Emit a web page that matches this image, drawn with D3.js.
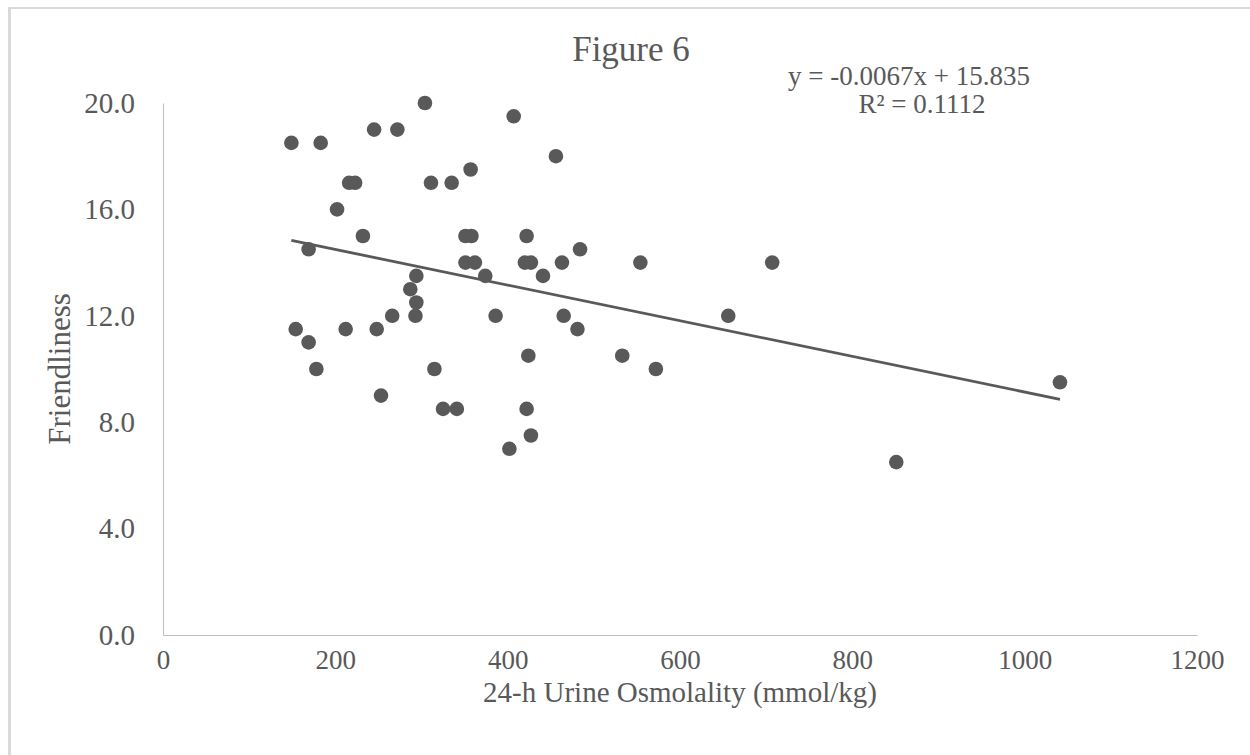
<!DOCTYPE html>
<html>
<head>
<meta charset="utf-8">
<script src="https://cdn.jsdelivr.net/npm/d3@7"></script>
<style>
  body { margin: 0; background: #fff; }
  svg text { font-family: "Liberation Serif", "Times New Roman", serif; fill: #595959; }
</style>
</head>
<body>
<svg id="chart"></svg>
<script>
// osmolality (x) and friendliness (y)
const osmolality = [
  149, 183, 245, 272, 304, 407, 456,
  216, 223, 311, 335, 357,
  202,
  232, 351, 358, 422,
  351, 362, 420, 427, 463, 554, 707,
  169, 484,
  294, 374, 441,
  287,
  294,
  266, 293, 386, 465, 656,
  154, 212, 248, 481,
  169,
  178, 315, 572,
  424, 533,
  253, 1041,
  325, 341, 422,
  427, 402, 851
];
const friendliness = [
  18.5, 18.5, 19, 19, 20, 19.5, 18,
  17, 17, 17, 17, 17.5,
  16,
  15, 15, 15, 15,
  14, 14, 14, 14, 14, 14, 14,
  14.5, 14.5,
  13.5, 13.5, 13.5,
  13,
  12.5,
  12, 12, 12, 12, 12,
  11.5, 11.5, 11.5, 11.5,
  11,
  10, 10, 10,
  10.5, 10.5,
  9, 9.5,
  8.5, 8.5, 8.5,
  7.5, 7, 6.5
];
const xTicks = [0, 200, 400, 600, 800, 1000, 1200];
const yTicks = [0, 4, 8, 12, 16, 20];
const slope = -0.0067;
const intercept = 15.835;
const rSquared = 0.1112;

const width = 1250, height = 755;
const margin = { top: 103, right: 53, bottom: 120, left: 163 };
const grey = '#595959';

const svg = d3.select('#chart').attr('width', width).attr('height', height);

// outer frame (only top and left show in the original)
svg.append('line').attr('x1', 9.5).attr('x2', width).attr('y1', 8).attr('y2', 8)
  .attr('stroke', '#d9d9d9').attr('stroke-width', 2);
svg.append('line').attr('x1', 9.5).attr('x2', 9.5).attr('y1', 7).attr('y2', height)
  .attr('stroke', '#d9d9d9').attr('stroke-width', 3);

const x = d3.scaleLinear().domain([0, 1200]).range([margin.left, width - margin.right]);
const y = d3.scaleLinear().domain([0, 20]).range([height - margin.bottom, margin.top]);

const xAxis = svg.append('g')
  .attr('transform', `translate(0,${y(0)})`)
  .call(d3.axisBottom(x).tickValues(xTicks).tickSize(0).tickPadding(15).tickFormat(d3.format('d')));
xAxis.select('.domain').attr('stroke', '#bfbfbf');
xAxis.selectAll('text').attr('font-size', 27).attr('fill', grey);

const yAxis = svg.append('g')
  .attr('transform', `translate(${x(0)},0)`)
  .call(d3.axisLeft(y).tickValues(yTicks).tickSize(0).tickPadding(28).tickFormat(d3.format('.1f')));
yAxis.select('.domain').attr('stroke', '#bfbfbf');
yAxis.selectAll('text').attr('font-size', 29).attr('fill', grey);

const pts = osmolality.map((v, i) => ({ x: v, y: friendliness[i] }));

svg.append('g')
  .selectAll('circle')
  .data(pts)
  .join('circle')
  .attr('cx', d => x(d.x))
  .attr('cy', d => y(d.y))
  .attr('r', 7.3)
  .attr('fill', grey);

// linear trendline over the data range
const xMin = d3.min(osmolality), xMax = d3.max(osmolality);
svg.append('line')
  .attr('x1', x(xMin)).attr('y1', y(slope * xMin + intercept))
  .attr('x2', x(xMax)).attr('y2', y(slope * xMax + intercept))
  .attr('stroke', grey).attr('stroke-width', 2.8);

svg.append('text')
  .attr('x', 631).attr('y', 61)
  .attr('text-anchor', 'middle').attr('font-size', 35)
  .text('Figure 6');

svg.append('text')
  .attr('x', 909).attr('y', 85)
  .attr('text-anchor', 'middle').attr('font-size', 27)
  .text(`y = ${slope}x + ${intercept}`);

svg.append('text')
  .attr('x', 922).attr('y', 113)
  .attr('text-anchor', 'middle').attr('font-size', 27)
  .text(`R² = ${rSquared}`);

svg.append('text')
  .attr('x', (x(0) + x(1200)) / 2).attr('y', 702)
  .attr('text-anchor', 'middle').attr('font-size', 29)
  .text('24-h Urine Osmolality (mmol/kg)');

svg.append('text')
  .attr('transform', `translate(70,${(y(0) + y(20)) / 2}) rotate(-90)`)
  .attr('text-anchor', 'middle').attr('font-size', 31)
  .text('Friendliness');
</script>
</body>
</html>
